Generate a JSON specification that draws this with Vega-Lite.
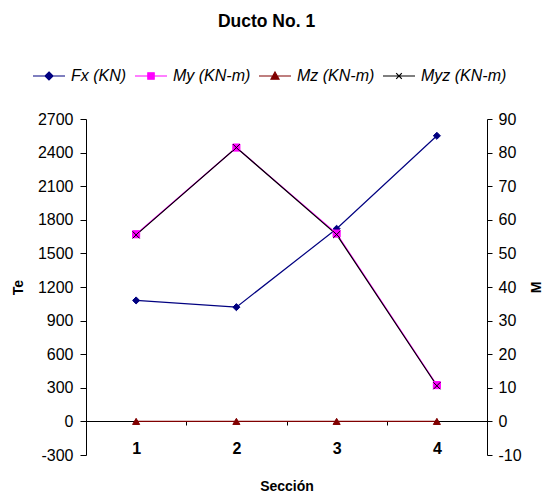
{
  "$schema": "https://vega.github.io/schema/vega-lite/v6.json",
  "width": 401,
  "height": 336,
  "autosize": "none",
  "padding": {"left": 86, "top": 119, "right": 60, "bottom": 41},
  "background": "white",
  "title": {"text": "Ducto No. 1", "font": "Liberation Sans", "fontSize": 17.5, "fontWeight": "bold", "color": "black", "anchor": "middle", "dx": -20, "offset": 38},
  "config": {
    "view": {"stroke": null},
    "font": "Liberation Sans",
    "axis": {"labelFont": "Liberation Sans", "titleFont": "Liberation Sans", "labelColor": "black", "titleColor": "black", "domainColor": "black", "tickColor": "black", "grid": false, "labelFontSize": 16, "titleFontSize": 14, "titleFontWeight": "bold"},
    "legend": {"labelFont": "Liberation Sans"}
  },
  "data": {"values": [
    {"seccion": "1", "series": "Fx (KN)", "value": 1080},
    {"seccion": "2", "series": "Fx (KN)", "value": 1020},
    {"seccion": "3", "series": "Fx (KN)", "value": 1720},
    {"seccion": "4", "series": "Fx (KN)", "value": 2550},
    {"seccion": "1", "series": "My (KN-m)", "value": 55.7},
    {"seccion": "2", "series": "My (KN-m)", "value": 81.5},
    {"seccion": "3", "series": "My (KN-m)", "value": 55.9},
    {"seccion": "4", "series": "My (KN-m)", "value": 10.8},
    {"seccion": "1", "series": "Mz (KN-m)", "value": 0},
    {"seccion": "2", "series": "Mz (KN-m)", "value": 0},
    {"seccion": "3", "series": "Mz (KN-m)", "value": 0},
    {"seccion": "4", "series": "Mz (KN-m)", "value": 0},
    {"seccion": "1", "series": "Myz (KN-m)", "value": 55.5},
    {"seccion": "2", "series": "Myz (KN-m)", "value": 81.5},
    {"seccion": "3", "series": "Myz (KN-m)", "value": 55.6},
    {"seccion": "4", "series": "Myz (KN-m)", "value": 10.6}
  ]},
  "encoding": {
    "x": {"field": "seccion", "type": "nominal", "bandPosition": 0.5,
      "scale": {"type": "band", "paddingInner": 0, "paddingOuter": 0},
      "axis": {"title": "Sección", "labelAngle": 0, "labelFontWeight": "bold", "offset": -34, "tickBand": "extent", "tickSize": 4, "labelPadding": 15, "titlePadding": 23, "domainWidth": 1}
    },
    "color": {"field": "series", "type": "nominal",
      "scale": {"domain": ["Fx (KN)", "My (KN-m)", "Mz (KN-m)", "Myz (KN-m)"], "range": ["#000080", "#FF00FF", "#800000", "#000000"]},
      "legend": {"title": null, "orient": "none", "legendX": -57, "legendY": -51, "direction": "horizontal", "labelFontStyle": "italic", "labelFontSize": 16, "labelColor": "black", "symbolSize": 64, "symbolOpacity": 1, "symbolStrokeWidth": 1.2, "labelOffset": 26, "columnPadding": 4,
        "encode": {"symbols": {"update": {
          "shape": {"signal": "datum.value == 'Fx (KN)' ? 'M-1,0L7,0M3,-1L4,0L3,1L2,0Z' : datum.value == 'My (KN-m)' ? 'M-1,0L7,0M2.2,-0.8L3.8,-0.8L3.8,0.8L2.2,0.8Z' : datum.value == 'Mz (KN-m)' ? 'M-1,0L7,0M3,-1L4,0.8L2,0.8Z' : 'M-1,0L7,0M2.3,-0.7L3.7,0.7M2.3,0.7L3.7,-0.7'"},
          "stroke": {"signal": "scale('color', datum.value)"},
          "fill": {"signal": "scale('color', datum.value)"},
          "strokeWidth": {"value": 1.2},
          "opacity": {"value": 1}
        }}}
      }
    }
  },
  "layer": [
    {
      "transform": [{"filter": "datum.series == 'Fx (KN)'"}],
      "encoding": {
        "y": {"field": "value", "type": "quantitative",
          "scale": {"domain": [-300, 2700], "nice": false, "zero": false},
          "axis": {"orient": "left", "title": "Te", "values": [-300, 0, 300, 600, 900, 1200, 1500, 1800, 2100, 2400, 2700], "labelExpr": "'' + datum.value", "tickSize": 6, "labelPadding": 7, "titlePadding": 12}
        }
      },
      "layer": [
        {"mark": {"type": "line", "strokeWidth": 1.2}},
        {"mark": {"type": "point", "filled": true, "size": 50, "strokeWidth": 1, "opacity": 1},
          "encoding": {
            "shape": {"field": "series", "type": "nominal", "legend": null, "scale": {"domain": ["My (KN-m)", "Fx (KN)", "Mz (KN-m)", "Myz (KN-m)"], "range": ["square", "diamond", "triangle-up", "M-1,-1L1,1M-1,1L1,-1"]}},
            "stroke": {"field": "series", "type": "nominal", "legend": null, "scale": {"domain": ["Mz (KN-m)", "Fx (KN)", "My (KN-m)", "Myz (KN-m)"], "range": ["#800000", "#000080", "#FF00FF", "#000000"]}}
          }
        }
      ]
    },
    {
      "transform": [{"filter": "datum.series != 'Fx (KN)'"}],
      "encoding": {
        "y": {"field": "value", "type": "quantitative",
          "scale": {"domain": [-10, 90], "nice": false, "zero": false},
          "axis": {"orient": "right", "title": "M", "titleAngle": 270, "values": [-10, 0, 10, 20, 30, 40, 50, 60, 70, 80, 90], "labelExpr": "'' + datum.value", "tickSize": 5, "labelPadding": 6, "titlePadding": 22}
        }
      },
      "layer": [
        {"mark": {"type": "line", "strokeWidth": 1.2}},
        {"mark": {"type": "point", "filled": true, "size": 50, "strokeWidth": 1, "opacity": 1},
          "encoding": {
            "shape": {"field": "series", "type": "nominal", "legend": null, "scale": {"domain": ["My (KN-m)", "Fx (KN)", "Mz (KN-m)", "Myz (KN-m)"], "range": ["square", "diamond", "triangle-up", "M-1,-1L1,1M-1,1L1,-1"]}},
            "stroke": {"field": "series", "type": "nominal", "legend": null, "scale": {"domain": ["Mz (KN-m)", "Fx (KN)", "My (KN-m)", "Myz (KN-m)"], "range": ["#800000", "#000080", "#FF00FF", "#000000"]}}
          }
        }
      ]
    }
  ],
  "resolve": {"scale": {"y": "independent"}}
}
